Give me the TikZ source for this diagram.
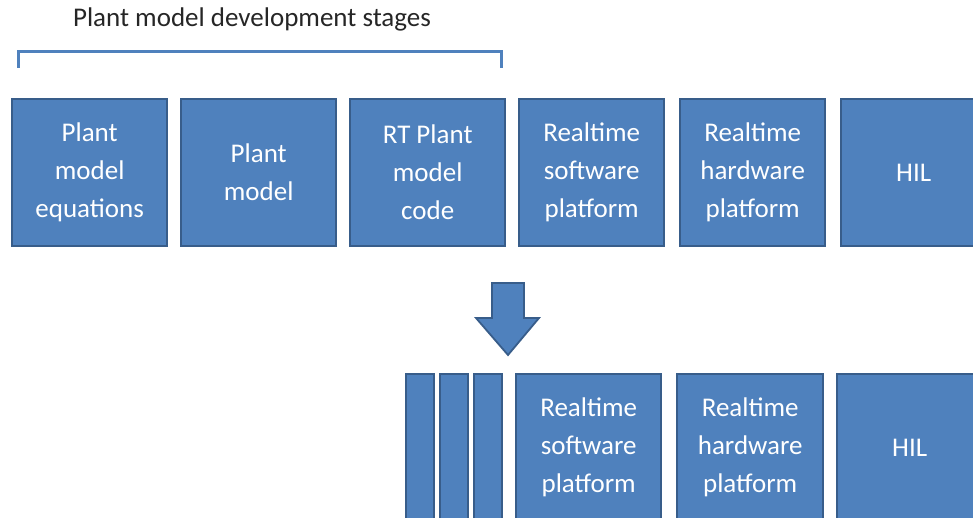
\documentclass[tikz,border=0pt]{standalone}
\usepackage{fontspec}
\setmainfont{Carlito}
\definecolor{boxblue}{HTML}{4F81BD}
\definecolor{boxedge}{HTML}{385D8A}
\begin{document}
\begin{tikzpicture}[x=1pt,y=-1pt,
  stage/.style={draw=boxedge, fill=boxblue, line width=2.4pt, text=white,
    font=\fontsize{27}{38}\selectfont, align=center, inner sep=0pt,
    minimum height=147pt, anchor=north west},
  wide/.style={stage, minimum width=155pt},
  narrow/.style={stage, minimum width=145pt},
  slim/.style={stage, minimum width=28pt}]
\useasboundingbox (0,0) rectangle (973,518);
\clip (0,0) rectangle (973,518);
% title and bracket
\node[anchor=base, font=\fontsize{27}{32}\selectfont, text=black!85] (title) at (252,27) {Plant model development stages};
\coordinate (bl) at (18,68);
\coordinate (br) at (501,68);
\draw[boxblue, line width=3pt] (bl) |- (259,52) -| (br);
% top row
\node[wide] (t1) at (11,98) {Plant\\model\\equations};
\node[wide] (t2) at (180,98) {Plant\\model};
\node[wide] (t3) at (349,98) {RT Plant\\model\\code};
\node[narrow] (t4) at (518,98) {Realtime\\software\\platform};
\node[narrow] (t5) at (679,98) {Realtime\\hardware\\platform};
\node[narrow] (t6) at (840,98) {HIL};
% block arrow
\draw[draw=boxedge, fill=boxblue, line width=1.8pt, line join=miter]
  (492,283) -- (524,283) -- (524,318) -- (539,318) -- (508,355)
  -- (476,318) -- (492,318) -- cycle;
% bottom row
\node[slim] (s1) at (405,373) {};
\node[slim] (s2) at (439,373) {};
\node[slim] (s3) at (473,373) {};
\node[narrow] (b4) at (515,373) {Realtime\\software\\platform};
\node[narrow, minimum width=146pt] (b5) at (676,373) {Realtime\\hardware\\platform};
\node[narrow] (b6) at (836,373) {HIL};
\end{tikzpicture}
\end{document}
